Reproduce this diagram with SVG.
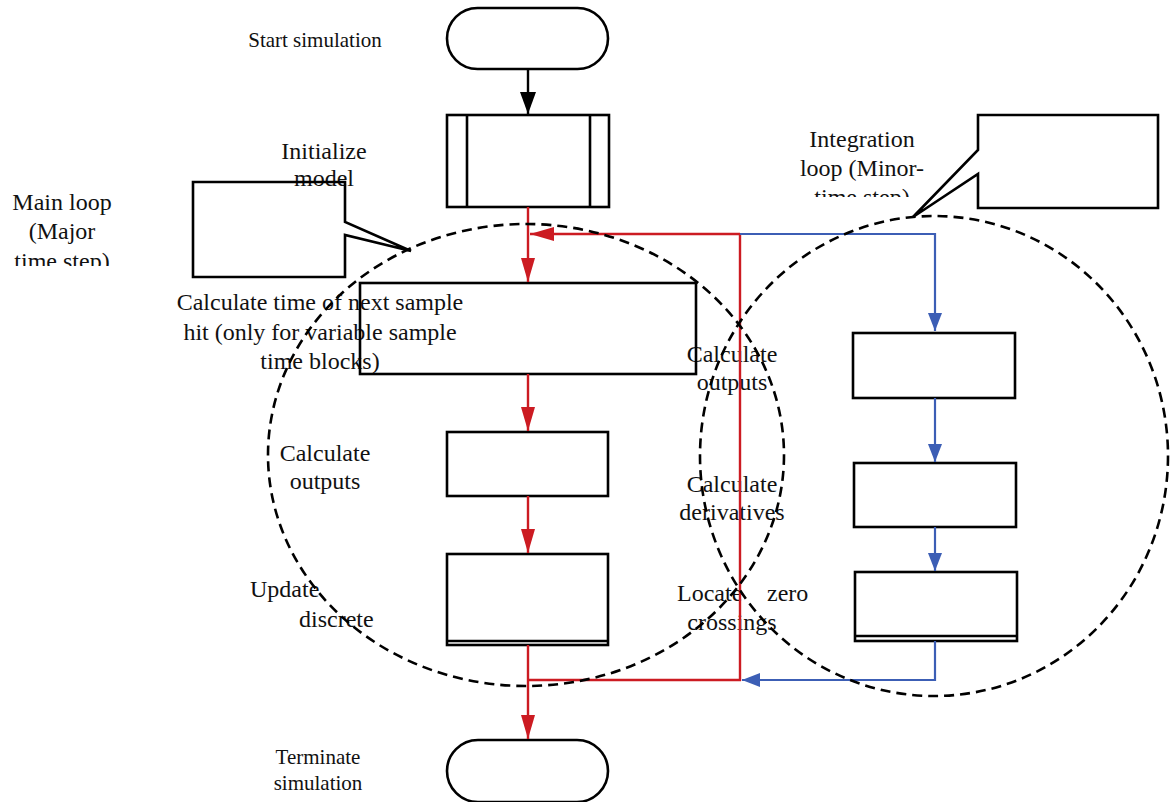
<svg xmlns="http://www.w3.org/2000/svg" width="1170" height="802" viewBox="0 0 1170 802">
<style>
.t{font-family:"Liberation Serif","Times New Roman",serif;font-size:24px;fill:#111}
.s{font-size:21px}
.box{fill:none;stroke:#000;stroke-width:2.6}
.red{stroke:#cc1b22;stroke-width:2.4;fill:none}
.blue{stroke:#3c5eb5;stroke-width:2.2;fill:none}
.blk{stroke:#000;stroke-width:2.4;fill:none}
.dash{fill:none;stroke:#000;stroke-width:2.6;stroke-dasharray:10 6}
</style>
<defs>
<marker id="ar" markerUnits="userSpaceOnUse" markerWidth="24" markerHeight="14" refX="24" refY="7" orient="auto"><path d="M0,0 L24,7 L0,14 z" fill="#cc1b22"/></marker>
<marker id="ab" markerUnits="userSpaceOnUse" markerWidth="18" markerHeight="14" refX="18" refY="7" orient="auto"><path d="M0,0 L18,7 L0,14 z" fill="#3c5eb5"/></marker>
<marker id="ak" markerUnits="userSpaceOnUse" markerWidth="22" markerHeight="16" refX="22" refY="8" orient="auto"><path d="M0,0 L22,8 L0,16 z" fill="#000"/></marker>
<clipPath id="c1"><rect x="0" y="180" width="190" height="86"/></clipPath>
<clipPath id="c2"><rect x="780" y="110" width="190" height="87"/></clipPath>
</defs>
<rect width="1170" height="802" fill="#fff"/>

<g id="labels">
<text class="t s" x="315" y="47" text-anchor="middle">Start simulation</text>
<text class="t" x="324" y="159" text-anchor="middle">Initialize</text>
<text class="t" x="324" y="186" text-anchor="middle">model</text>
<g clip-path="url(#c1)">
<text class="t" x="62" y="210" text-anchor="middle">Main loop</text>
<text class="t" x="62" y="239" text-anchor="middle">(Major</text>
<text class="t" x="62" y="269" text-anchor="middle">time step)</text>
</g>
<g clip-path="url(#c2)">
<text class="t" x="862" y="147" text-anchor="middle">Integration</text>
<text class="t" x="862" y="176" text-anchor="middle">loop (Minor-</text>
<text class="t" x="862" y="205" text-anchor="middle">time step)</text>
</g>
<text class="t" x="320" y="310" text-anchor="middle">Calculate time of next sample</text>
<text class="t" x="320" y="340" text-anchor="middle">hit (only for variable sample</text>
<text class="t" x="320" y="369" text-anchor="middle">time blocks)</text>
<text class="t" x="325" y="461" text-anchor="middle">Calculate</text>
<text class="t" x="325" y="489" text-anchor="middle">outputs</text>
<text class="t" x="250" y="597">Update</text>
<text class="t" x="299" y="627">discrete</text>
<text class="t s" x="318" y="764" text-anchor="middle">Terminate</text>
<text class="t s" x="318" y="790" text-anchor="middle">simulation</text>
<text class="t" x="732" y="362" text-anchor="middle">Calculate</text>
<text class="t" x="732" y="390" text-anchor="middle">outputs</text>
<text class="t" x="732" y="492" text-anchor="middle">Calculate</text>
<text class="t" x="732" y="520" text-anchor="middle">derivatives</text>
<text class="t" x="677" y="601">Locate</text>
<text class="t" x="767" y="601">zero</text>
<text class="t" x="732" y="630" text-anchor="middle">crossings</text>
</g>

<g id="start"><rect class="box" x="447" y="8" width="161" height="61" rx="30.5"/></g>
<g id="init"><rect class="box" x="447" y="115" width="162" height="92"/><line class="box" x1="467" y1="115" x2="467" y2="207"/><line class="box" x1="590" y1="115" x2="590" y2="207"/></g>
<g id="calc-time"><rect class="box" x="360" y="283" width="336" height="91"/></g>
<g id="calc-outputs"><rect class="box" x="447" y="432" width="161" height="64"/></g>
<g id="update-discrete"><rect class="box" x="447" y="554" width="161" height="91"/><line class="box" x1="447" y1="641" x2="608" y2="641" stroke-width="1.6"/></g>
<g id="terminate"><rect class="box" x="447" y="740" width="161" height="62" rx="31"/></g>
<g id="minor-outputs"><rect class="box" x="853" y="333" width="162" height="65"/></g>
<g id="minor-derivatives"><rect class="box" x="854" y="463" width="162" height="64"/></g>
<g id="minor-zero"><rect class="box" x="855" y="572" width="162" height="69"/><line class="box" x1="855" y1="636" x2="1017" y2="636" stroke-width="1.6"/></g>
<g id="callout-main"><path class="box" d="M193,182 H345 V222 L411,251 L345,235 V277 H193 Z"/></g>
<g id="callout-minor"><path class="box" d="M978,115 H1158 V208 H978 V174 L913,217 L978,150 Z"/></g>

<g id="connectors">
<line class="blk" x1="528" y1="69" x2="528" y2="114" marker-end="url(#ak)"/>
<line class="red" x1="528" y1="207" x2="528" y2="282" marker-end="url(#ar)"/>
<line class="red" x1="740" y1="234" x2="530" y2="234" marker-end="url(#ar)"/>
<line class="red" x1="740" y1="233" x2="740" y2="681"/>
<line class="red" x1="527" y1="680" x2="741" y2="680"/>
<line class="red" x1="528" y1="374" x2="528" y2="431" marker-end="url(#ar)"/>
<line class="red" x1="528" y1="496" x2="528" y2="553" marker-end="url(#ar)"/>
<line class="red" x1="528" y1="645" x2="528" y2="739" marker-end="url(#ar)"/>
<polyline class="blue" points="740,234 935,234 935,331" marker-end="url(#ab)"/>
<line class="blue" x1="935" y1="398" x2="935" y2="462" marker-end="url(#ab)"/>
<line class="blue" x1="935" y1="527" x2="935" y2="571" marker-end="url(#ab)"/>
<polyline class="blue" points="935,641 935,680 742,680" marker-end="url(#ab)"/>
</g>

<g id="loops">
<ellipse class="dash" cx="526" cy="455" rx="258" ry="231"/>
<ellipse class="dash" cx="934" cy="456" rx="234" ry="240"/>
</g>
</svg>
